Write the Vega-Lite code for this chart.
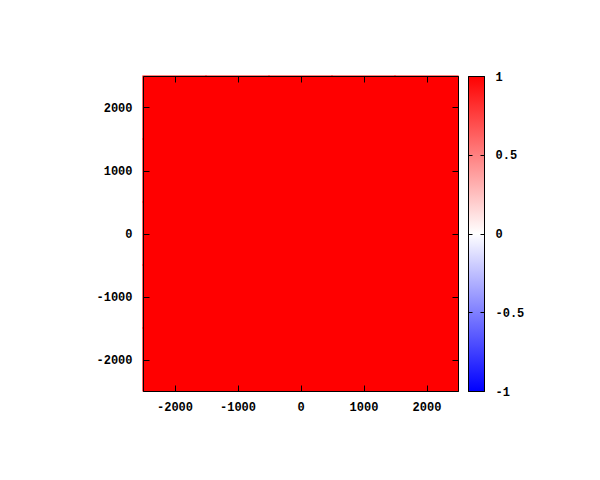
{
  "$schema": "https://vega.github.io/schema/vega-lite/v6.json",
  "background": "white",
  "padding": {"left": 95, "top": 69, "right": 0, "bottom": 0},
  "spacing": 7,
  "config": {
    "view": {"stroke": "black", "strokeWidth": 1},
    "axis": {
      "labelFont": "Liberation Mono",
      "labelFontSize": 12,
      "labelFontWeight": "bold",
      "labelColor": "black",
      "tickColor": "black",
      "tickWidth": 1,
      "domain": true,
      "domainColor": "black",
      "domainWidth": 1,
      "grid": false,
      "title": null
    }
  },
  "hconcat": [
    {
      "width": 315,
      "height": 315,
      "data": {
        "values": [
          {"x0": -2500, "x1": -1500, "y0": -2500, "y1": -1500, "v": 1},
          {"x0": -1500, "x1": -500, "y0": -2500, "y1": -1500, "v": 1},
          {"x0": -500, "x1": 500, "y0": -2500, "y1": -1500, "v": 1},
          {"x0": 500, "x1": 1500, "y0": -2500, "y1": -1500, "v": 1},
          {"x0": 1500, "x1": 2500, "y0": -2500, "y1": -1500, "v": 1},
          {"x0": -2500, "x1": -1500, "y0": -1500, "y1": -500, "v": 1},
          {"x0": -1500, "x1": -500, "y0": -1500, "y1": -500, "v": 1},
          {"x0": -500, "x1": 500, "y0": -1500, "y1": -500, "v": 1},
          {"x0": 500, "x1": 1500, "y0": -1500, "y1": -500, "v": 1},
          {"x0": 1500, "x1": 2500, "y0": -1500, "y1": -500, "v": 1},
          {"x0": -2500, "x1": -1500, "y0": -500, "y1": 500, "v": 1},
          {"x0": -1500, "x1": -500, "y0": -500, "y1": 500, "v": 1},
          {"x0": -500, "x1": 500, "y0": -500, "y1": 500, "v": 1},
          {"x0": 500, "x1": 1500, "y0": -500, "y1": 500, "v": 1},
          {"x0": 1500, "x1": 2500, "y0": -500, "y1": 500, "v": 1},
          {"x0": -2500, "x1": -1500, "y0": 500, "y1": 1500, "v": 1},
          {"x0": -1500, "x1": -500, "y0": 500, "y1": 1500, "v": 1},
          {"x0": -500, "x1": 500, "y0": 500, "y1": 1500, "v": 1},
          {"x0": 500, "x1": 1500, "y0": 500, "y1": 1500, "v": 1},
          {"x0": 1500, "x1": 2500, "y0": 500, "y1": 1500, "v": 1},
          {"x0": -2500, "x1": -1500, "y0": 1500, "y1": 2500, "v": 1},
          {"x0": -1500, "x1": -500, "y0": 1500, "y1": 2500, "v": 1},
          {"x0": -500, "x1": 500, "y0": 1500, "y1": 2500, "v": 1},
          {"x0": 500, "x1": 1500, "y0": 1500, "y1": 2500, "v": 1},
          {"x0": 1500, "x1": 2500, "y0": 1500, "y1": 2500, "v": 1}
        ]
      },
      "layer": [
        {
          "mark": {"type": "rect", "strokeWidth": 1.2},
          "encoding": {
            "x": {
              "field": "x0", "type": "quantitative",
              "scale": {"domain": [-2500, 2500], "nice": false, "zero": false},
              "axis": {"orient": "bottom", "zindex": 1, "values": [-2000, -1000, 0, 1000, 2000], "tickSize": -6, "labelPadding": 16, "labelExpr": "'' + datum.value"}
            },
            "x2": {"field": "x1"},
            "y": {
              "field": "y0", "type": "quantitative",
              "scale": {"domain": [-2500, 2500], "nice": false, "zero": false},
              "axis": {"orient": "left", "zindex": 1, "values": [-2000, -1000, 0, 1000, 2000], "tickSize": -6, "labelPadding": 17, "labelExpr": "'' + datum.value"}
            },
            "y2": {"field": "y1"},
            "fill": {"field": "v", "type": "quantitative", "scale": {"domain": [-1, 1], "range": ["#0000ff", "#ffffff", "#ff0000"]}, "legend": null},
            "stroke": {"field": "v", "type": "quantitative", "scale": {"domain": [-1, 1], "range": ["#0000ff", "#ffffff", "#ff0000"]}, "legend": null}
          }
        },
        {
          "mark": {"type": "rect", "opacity": 0},
          "encoding": {
            "x": {"field": "x0", "type": "quantitative", "axis": {"orient": "top", "zindex": 1, "values": [-2000, -1000, 0, 1000, 2000], "labels": false, "tickSize": -6, "minExtent": 0, "maxExtent": 0}},
            "x2": {"field": "x1"},
            "y": {"field": "y0", "type": "quantitative", "axis": {"orient": "right", "zindex": 1, "values": [-2000, -1000, 0, 1000, 2000], "labels": false, "tickSize": -6, "minExtent": 0, "maxExtent": 0}},
            "y2": {"field": "y1"}
          }
        }
      ],
      "resolve": {"axis": {"x": "independent", "y": "independent"}}
    },
    {
      "width": 16,
      "height": 315,
      "data": {"values": [{"a": 0, "b": 1, "lo": -1, "hi": 1}]},
      "layer": [
        {
          "mark": {
            "type": "rect",
            "color": {
              "gradient": "linear", "x1": 0, "y1": 1, "x2": 0, "y2": 0,
              "stops": [
                {"offset": 0, "color": "#0000ff"},
                {"offset": 0.5, "color": "#ffffff"},
                {"offset": 1, "color": "#ff0000"}
              ]
            }
          },
          "encoding": {
            "x": {"field": "a", "type": "quantitative", "scale": {"domain": [0, 1], "nice": false}, "axis": {"orient": "bottom", "zindex": 1, "labels": false, "ticks": false, "minExtent": 0, "maxExtent": 0}},
            "x2": {"field": "b"},
            "y": {
              "field": "lo", "type": "quantitative",
              "scale": {"domain": [-1, 1], "nice": false, "zero": false},
              "axis": {"orient": "left", "zindex": 1, "values": [-1, -0.5, 0, 0.5, 1], "labels": false, "tickSize": -4, "minExtent": 0, "maxExtent": 0}
            },
            "y2": {"field": "hi"}
          }
        },
        {
          "mark": {"type": "rect", "opacity": 0},
          "encoding": {
            "x": {"field": "a", "type": "quantitative", "axis": {"orient": "top", "zindex": 1, "labels": false, "ticks": false, "minExtent": 0, "maxExtent": 0}},
            "x2": {"field": "b"},
            "y": {
              "field": "lo", "type": "quantitative",
              "axis": {"orient": "right", "zindex": 1, "values": [-1, -0.5, 0, 0.5, 1], "tickSize": -4, "labelPadding": 15, "labelAlign": "left", "labelExpr": "'' + datum.value"}
            },
            "y2": {"field": "hi"}
          }
        }
      ],
      "resolve": {"axis": {"x": "independent", "y": "independent"}}
    }
  ]
}
